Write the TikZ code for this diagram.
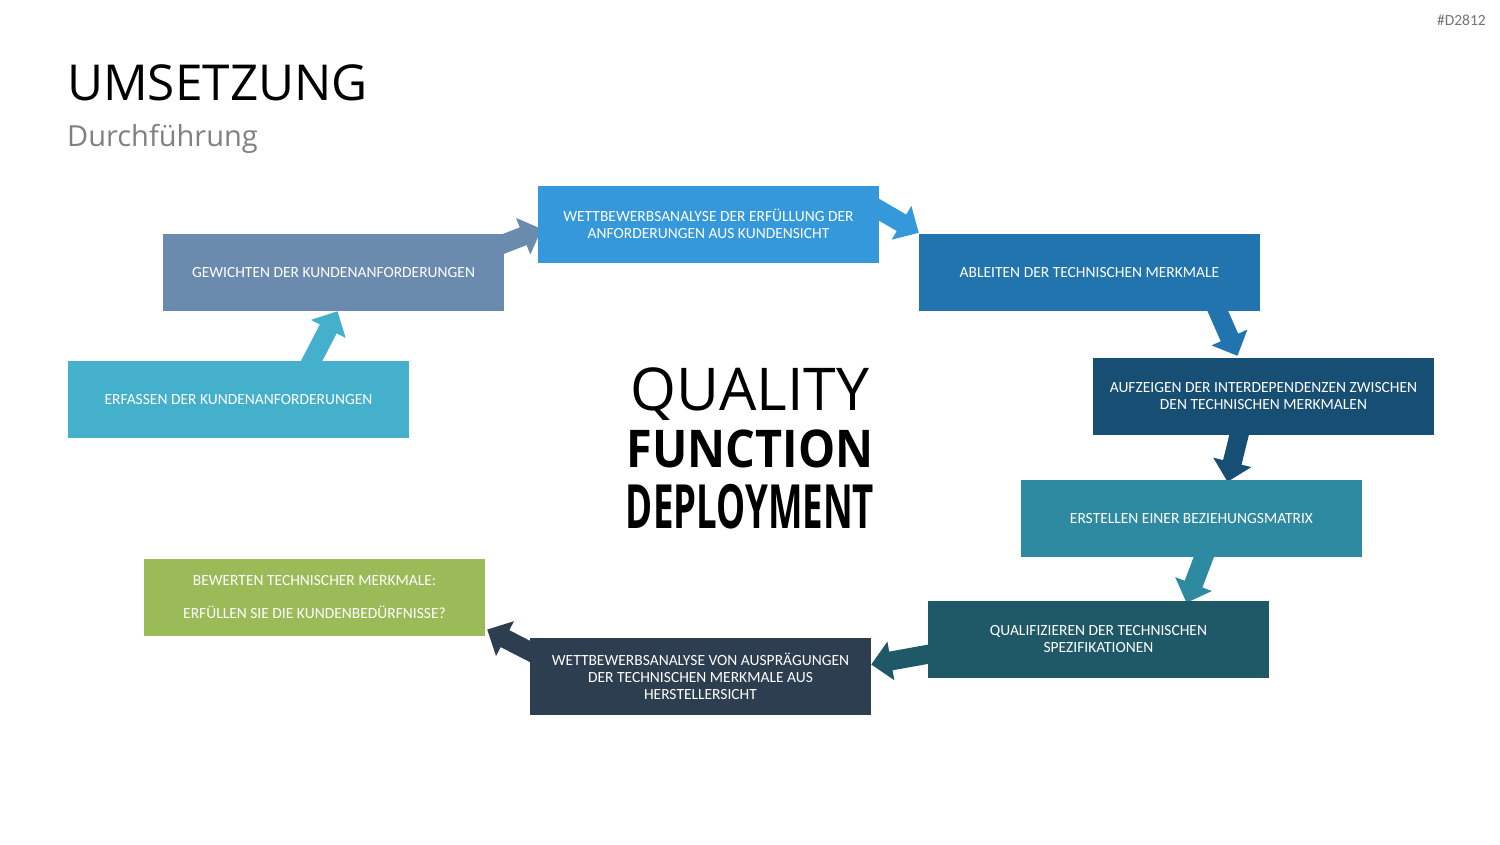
\documentclass[tikz,border=0pt]{standalone}
\usepackage{fontspec}
\setmainfont{Carlito}
\newfontfamily\titlefont{Open Sans}
\usetikzlibrary{arrows.meta,calc}
\pgfdeclarelayer{background}
\pgfsetlayers{background,main}
\definecolor{erfc}{RGB}{69,176,203}
\definecolor{gewc}{RGB}{106,139,174}
\definecolor{wbkc}{RGB}{52,152,219}
\definecolor{ablc}{RGB}{34,116,174}
\definecolor{aufc}{RGB}{23,78,116}
\definecolor{ersc}{RGB}{46,138,160}
\definecolor{quac}{RGB}{31,89,104}
\definecolor{wbhc}{RGB}{44,62,80}
\definecolor{bewc}{RGB}{155,187,89}
\tikzset{
  stepbox/.style={rectangle, minimum width=341pt, minimum height=77pt, inner sep=0pt,
    text=white, align=center, font=\fontsize{15.5}{17}\selectfont},
  flow/.style={line width=19pt, -{Triangle[length=20pt,width=38pt]}}
}
\begin{document}
\begin{tikzpicture}[x=1pt, y=-1pt]
				\useasboundingbox (0,0) rectangle (1500,844);
				\node[anchor=base east, inner sep=0pt, text=black!55, font=\fontsize{15.5}{15.5}\selectfont] (tag) at (1486,25) {\#D2812};
				\node[anchor=base west, inner sep=0pt, font=\titlefont\fontsize{49.5}{50}\selectfont] (ttl) at (67,100) {UMSETZUNG};
				\node[anchor=base west, inner sep=0pt, text=black!50, font=\titlefont\fontsize{29}{29}\selectfont] (sub) at (67,146) {Durchführung};
				\node[stepbox, fill=erfc] (erf) at (238.5,399.5) {ERFASSEN DER KUNDENANFORDERUNGEN};
				\node[stepbox, fill=gewc] (gew) at (333.5,272.5) {GEWICHTEN DER KUNDENANFORDERUNGEN};
				\node[stepbox, fill=wbkc] (wbk) at (708.5,224) {WETTBEWERBSANALYSE DER ERFÜLLUNG DER\\ANFORDERUNGEN AUS KUNDENSICHT};
				\node[stepbox, fill=ablc] (abl) at (1089.5,272.5) {ABLEITEN DER TECHNISCHEN MERKMALE};
				\node[stepbox, fill=aufc] (auf) at (1263.5,396.5) {AUFZEIGEN DER INTERDEPENDENZEN ZWISCHEN\\DEN TECHNISCHEN MERKMALEN};
				\node[stepbox, fill=ersc] (ers) at (1191.5,518.5) {ERSTELLEN EINER BEZIEHUNGSMATRIX};
				\node[stepbox, fill=quac] (qua) at (1098.5,639.5) {QUALIFIZIEREN DER TECHNISCHEN\\SPEZIFIKATIONEN};
				\node[stepbox, fill=wbhc] (wbh) at (700.5,676.5) {WETTBEWERBSANALYSE VON AUSPRÄGUNGEN\\DER TECHNISCHEN MERKMALE AUS\\HERSTELLERSICHT};
				\node[stepbox, fill=bewc, font=\fontsize{15.5}{16.5}\selectfont] (bew) at (314.5,597.5) {BEWERTEN TECHNISCHER MERKMALE:\\[16.5pt]ERFÜLLEN SIE DIE KUNDENBEDÜRFNISSE?};
				\node[anchor=base, inner sep=0pt, font=\titlefont\fontsize{59}{59}\selectfont] (qfd1) at (750,410) {QUALITY};
				\node[anchor=base, inner sep=0pt, font=\titlefont\bfseries\fontsize{52}{52}\selectfont] (qfd2) at (750,467) {\scalebox{0.9}[1]{FUNCTION}};
				\node[anchor=base, inner sep=0pt, font=\titlefont\bfseries\fontsize{61}{61}\selectfont] (qfd3) at (750,528) {\scalebox{0.6}[1]{DEPLOYMENT}};
				\begin{pgfonlayer}{background}
				\draw[flow, erfc] ($(erf.north)+(68,10)$) -- ($(gew.south)+(4,0)$);
				\draw[flow, gewc] ($(gew.east)+(-10,-25)$) -- ($(wbk.west)+(4,5)$);
				\draw[flow, wbkc] ($(wbk.east)+(-10,-20)$) -- ($(abl.north west)+(0,-1)$);
				\draw[flow, ablc] ($(abl.south)+(124,-10)$) -- ($(auf.north)+(-26,-2)$);
				\draw[flow, aufc] ($(auf.south)+(-22,-10)$) -- ($(ers.north)+(36,2)$);
				\draw[flow, ersc] ($(ers.south)+(16,-10)$) -- ($(qua.north)+(88,2)$);
				\draw[flow, quac] ($(qua.west)+(10,13)$) -- ($(wbh.east)+(0,-12)$);
				\draw[flow, wbhc] ($(wbh.west)+(10,-20)$) -- ($(bew.east)+(2,32)$);
				\end{pgfonlayer}
			\end{tikzpicture}
\end{document}
